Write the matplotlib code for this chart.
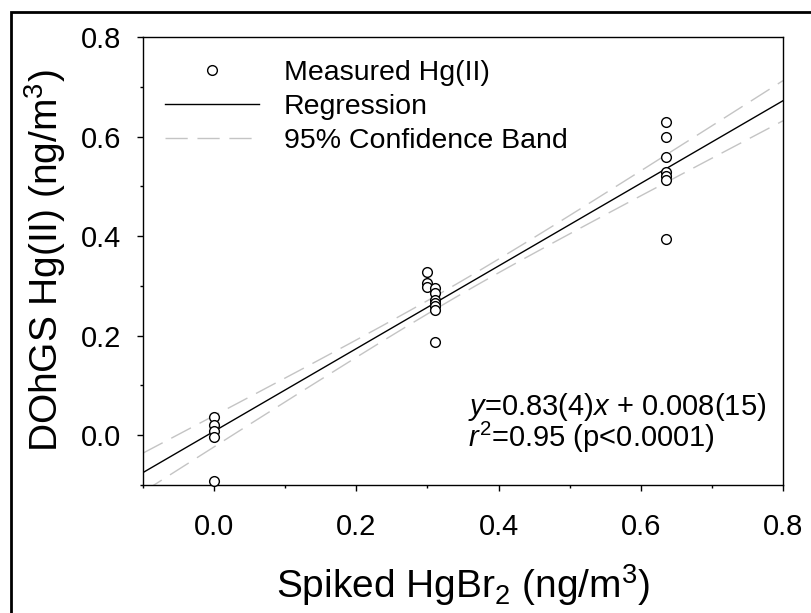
import numpy as np
import matplotlib
matplotlib.use("Agg")
import matplotlib.pyplot as plt
from matplotlib.patches import Rectangle
from matplotlib.ticker import MultipleLocator

plt.rcParams['font.family'] = ['Liberation Sans', 'DejaVu Sans']
plt.rcParams['mathtext.fontset'] = 'custom'
plt.rcParams['mathtext.rm'] = 'Liberation Sans'
plt.rcParams['mathtext.it'] = 'Liberation Sans:italic'

# spiked HgBr2 vs measured Hg(II), ng/m3
spiked = [0.0, 0.0, 0.0, 0.0, 0.0,
          0.300, 0.300, 0.300,
          0.311, 0.311, 0.311, 0.311, 0.311, 0.311, 0.311,
          0.635, 0.635, 0.635, 0.635, 0.635, 0.635, 0.635]
measured = [0.037, 0.020, 0.008, -0.004, -0.092,
            0.328, 0.306, 0.298,
            0.296, 0.286, 0.272, 0.265, 0.259, 0.252, 0.187,
            0.630, 0.599, 0.558, 0.528, 0.520, 0.513, 0.395]

# regression reported on the chart: y = 0.83(4) x + 0.008(15)
slope, se_slope = 0.83, 0.04
intercept, se_intercept = 0.008, 0.015

x = np.array(spiked)
xbar = x.mean()

# 95% confidence band of the mean response from the reported errors
t_val = 2.086
xs = np.linspace(-0.1, 0.8, 200)
fit = slope * xs + intercept
cov = -xbar * se_slope ** 2
var = se_intercept ** 2 + xs ** 2 * se_slope ** 2 + 2 * xs * cov
half = t_val * np.sqrt(var)

fig = plt.figure(figsize=(8.11, 6.13), dpi=100)
ax = fig.add_axes([143 / 811, 128 / 613, 640 / 811, 448 / 613])

ax.plot(spiked, measured, 'o', mfc='white', mec='black', ms=7, mew=1.0,
        label='Measured Hg(II)', zorder=4, clip_on=False)
ax.plot(xs, fit, color='black', lw=1.0, label='Regression')
ax.plot(xs, fit + half, color='#c4c4c4', lw=1.0, dashes=(16, 7),
        label='95% Confidence Band')
ax.plot(xs, fit - half, color='#c4c4c4', lw=1.0, dashes=(16, 7))

ax.set_xlim(-0.1, 0.8)
ax.set_ylim(-0.1, 0.8)
ax.xaxis.set_minor_locator(MultipleLocator(0.1))
ax.yaxis.set_minor_locator(MultipleLocator(0.1))
ax.set_xticks([0.0, 0.2, 0.4, 0.6, 0.8])
ax.set_yticks([0.0, 0.2, 0.4, 0.6, 0.8])
ax.tick_params(which='major', direction='out', length=4.5, width=1,
               labelsize=21)
ax.tick_params(axis='x', which='major', pad=16)
ax.tick_params(axis='y', which='major', pad=11)
ax.tick_params(which='minor', direction='out', length=2.5, width=1)
for sp in ax.spines.values():
    sp.set_linewidth(1.0)

ax.set_xlabel('Spiked HgBr$_2$ (ng/m$^3$)', fontsize=28)
ax.set_ylabel('DOhGS Hg(II) (ng/m$^3$)', fontsize=28)
ax.xaxis.set_label_coords(0.5, (485 - 585) / 448)
ax.xaxis.label.set_va('center')
ax.yaxis.set_label_coords((45 - 143) / 640, 0.5)
ax.yaxis.label.set_va('center')

ax.legend(loc='upper left', bbox_to_anchor=(0.035, 0.948), frameon=False,
          fontsize=20.5, handlelength=3.3, handletextpad=0.85,
          labelspacing=0.27, borderaxespad=0, borderpad=0, numpoints=1)

ax.text(0.508, 0.174, '$y$=0.83(4)$x$ + 0.008(15)', transform=ax.transAxes,
        fontsize=21, ha='left', va='center')
ax.text(0.508, 0.107, '$r^2$=0.95 (p<0.0001)', transform=ax.transAxes,
        fontsize=21, ha='left', va='center')

# outer frame around the figure
fig.patches.append(Rectangle((11 / 811, -0.05), 1.1, 1 - 12 / 613 + 0.05,
                             transform=fig.transFigure, fill=False,
                             ec='black', lw=2))

fig.savefig('out.png', dpi=100)
